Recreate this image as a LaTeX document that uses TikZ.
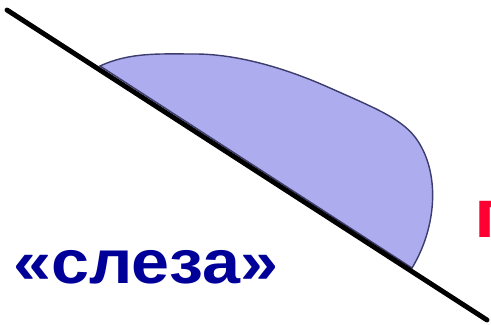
\documentclass[tikz,border=0pt]{standalone}
\usepackage{fontspec}
\setmainfont{Liberation Sans}
\usetikzlibrary{positioning}
\definecolor{dropfill}{RGB}{172,172,238}
\definecolor{dropedge}{RGB}{60,60,110}
\definecolor{labelblue}{RGB}{0,0,153}
\definecolor{labelred}{RGB}{255,0,51}
\begin{document}
\begin{tikzpicture}[
    x=0.02cm, y=-0.02cm,
    surface/.style={line width=2.8pt, line cap=round},
    drop/.style={fill=dropfill, draw=dropedge, line width=0.8pt},
    caption/.style={font=\bfseries\fontsize{35}{40}\selectfont, inner sep=0pt, xscale=1.11}
]
\useasboundingbox (0,0) rectangle (491,325);

% Drop on the surface
\coordinate (left) at (100,66);
\coordinate (right) at (412,268);
\draw[drop] (left) .. controls (130,52) and (160,54) .. (195,54)
    .. controls (240,54) and (290,70) .. (330,88)
    .. controls (375,108) and (400,118) .. (415,137)
    .. controls (440,170) and (438,225) .. (right) -- cycle;

% Surface
\coordinate (start) at (7,10);
\coordinate (end) at (487,320);
\draw[surface] (start) -- (end);

% Labels
\node[caption, text=labelblue, anchor=base west] (tear) at (13,283) {«слеза»};
\node[caption, text=labelred, anchor=base west, font=\bfseries\fontsize{39}{44}\selectfont] (cut) at (474,237) {г};

\end{tikzpicture}
\end{document}
